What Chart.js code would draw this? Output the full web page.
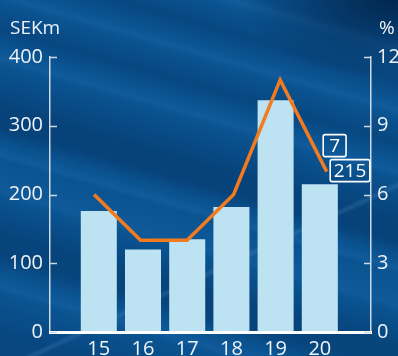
<!DOCTYPE html>
<html>
<head>
<meta charset="utf-8">
<script src="https://cdn.jsdelivr.net/npm/chart.js@4.4.1/dist/chart.umd.min.js"></script>
<style>
    html, body {
        margin: 0;
        padding: 0;
        width: 398px;
        height: 356px;
        overflow: hidden;
    }
    body {
        background:
            radial-gradient(ellipse 150px 80px at 390px 0px, rgba(0, 28, 62, 0.8), rgba(0, 28, 62, 0) 100%),
            linear-gradient(155deg, rgba(0,0,0,0) 0px, rgba(0,0,0,0) 332px, rgba(120,170,220,0.18) 336px, rgba(0,0,0,0) 340px),
            linear-gradient(196deg,
                rgba(0,0,0,0) 0px, rgba(0,0,0,0) 38px,
                rgba(60,130,200,0.18) 46px, rgba(0,0,0,0) 54px,
                rgba(0,30,70,0.22) 78px, rgba(0,0,0,0) 96px,
                rgba(60,130,200,0.16) 106px, rgba(0,0,0,0) 112px,
                rgba(0,30,70,0.22) 138px, rgba(0,0,0,0) 154px,
                rgba(60,130,200,0.16) 166px, rgba(0,0,0,0) 172px,
                rgba(0,30,70,0.30) 212px, rgba(0,30,70,0.30) 232px, rgba(0,0,0,0) 248px,
                rgba(60,130,200,0.16) 258px, rgba(0,0,0,0) 264px,
                rgba(60,130,200,0.14) 294px, rgba(0,0,0,0) 300px,
                rgba(0,30,70,0.28) 334px, rgba(0,30,70,0.28) 356px, rgba(0,0,0,0) 372px,
                rgba(60,130,200,0.16) 386px, rgba(0,0,0,0) 392px,
                rgba(0,30,70,0.22) 430px, rgba(0,30,70,0.22) 460px),
            #0a5391;
        font-family: "Open Sans", sans-serif;
    }
    #wrap {
        position: relative;
        width: 398px;
        height: 356px;
    }
</style>
</head>
<body>
<div id="wrap"><canvas id="profitChart"></canvas></div>
<script>
const years = [15, 16, 17, 18, 19, 20];
const profit = [176, 120, 135, 182, 337, 215];     // SEKm, bars
const margin = [6, 4, 4, 6, 11, 7];                // %, line
const leftTicks = [0, 100, 200, 300, 400];
const rightTicks = [0, 3, 6, 9, 12];

const textColor = '#eef3f8';
const axisColor = '#cfd9e3';
const font = { family: '"Open Sans", sans-serif', size: 20 };
const labelFont = { family: '"Open Sans", sans-serif', size: 19 };

// tick marks point into the plot, so they are drawn here instead of by the scales
const innerTicks = {
    id: 'innerTicks',
    afterDraw(chart) {
        const ctx = chart.ctx;
        const area = chart.chartArea;
        ctx.save();
        ctx.strokeStyle = axisColor;
        ctx.lineWidth = 1.5;
        chart.scales.y.ticks.forEach(t => {
            const py = Math.round(chart.scales.y.getPixelForValue(t.value)) + 0.5;
            ctx.beginPath();
            ctx.moveTo(area.left, py);
            ctx.lineTo(area.left + 7, py);
            ctx.stroke();
        });
        chart.scales.y2.ticks.forEach(t => {
            const py = Math.round(chart.scales.y2.getPixelForValue(t.value)) + 0.5;
            ctx.beginPath();
            ctx.moveTo(area.right, py);
            ctx.lineTo(area.right - 7, py);
            ctx.stroke();
        });
        ctx.restore();
    }
};

// unit captions above both axes
const unitTitles = {
    id: 'unitTitles',
    afterDraw(chart) {
        const ctx = chart.ctx;
        ctx.save();
        ctx.fillStyle = textColor;
        ctx.font = `${labelFont.size}px ${labelFont.family}`;
        ctx.textBaseline = 'alphabetic';
        ctx.textAlign = 'left';
        ctx.fillText('SEKm', 10, 34);
        ctx.fillText('%', 379, 34);
        ctx.restore();
    }
};

// boxed values at the last year
const lastValues = {
    id: 'lastValues',
    afterDatasetsDraw(chart) {
        const ctx = chart.ctx;
        const n = years.length - 1;
        const pt = chart.getDatasetMeta(1).data[n];
        ctx.save();
        ctx.font = `${labelFont.size}px ${labelFont.family}`;
        ctx.textBaseline = 'middle';
        ctx.textAlign = 'center';
        ctx.strokeStyle = '#ffffff';
        ctx.fillStyle = '#ffffff';
        ctx.lineWidth = 1.6;

        const box = (text, left, top, w, h) => {
            ctx.beginPath();
            ctx.roundRect(left, top, w, h, 2);
            ctx.stroke();
            ctx.fillText(text, left + w / 2, top + h / 2 + 1);
        };

        const t1 = String(profit[n]);
        const w1 = ctx.measureText(t1).width + 7;
        box(t1, pt.x + 3.5, pt.y - 12, w1, 22);

        const t2 = String(margin[n]);
        const w2 = ctx.measureText(t2).width + 12;
        box(t2, pt.x - 3.5, pt.y - 37, w2, 22);
        ctx.restore();
    }
};

new Chart(document.getElementById('profitChart'), {
    data: {
        datasets: [
            {
                type: 'bar',
                data: years.map((yr, i) => ({ x: yr, y: profit[i] })),
                backgroundColor: '#bde3f3',
                borderWidth: 0,
                grouped: false,
                barPercentage: 0.815,
                categoryPercentage: 1,
                xAxisID: 'x',
                yAxisID: 'y',
                order: 2
            },
            {
                type: 'line',
                data: years.map((yr, i) => ({ x: yr, y: margin[i] })),
                borderColor: '#f27a1f',
                borderWidth: 3.5,
                borderJoinStyle: 'miter',
                pointRadius: 0,
                tension: 0,
                xAxisID: 'x2',
                yAxisID: 'y2',
                order: 1
            }
        ]
    },
    options: {
        responsive: true,
        maintainAspectRatio: false,
        animation: false,
        events: [],
        layout: { padding: { top: 57, left: 0, right: 0, bottom: 0 } },
        plugins: { legend: { display: false }, tooltip: { enabled: false } },
        scales: {
            x: {
                type: 'linear',
                offset: false,
                min: 13.896,
                max: 21.158,
                afterBuildTicks: (s) => { s.ticks = years.map(v => ({ value: v })); },
                afterFit: (s) => { s.height = 24; },
                grid: { display: true, offset: false, drawOnChartArea: false, drawTicks: false },
                border: { color: '#ffffff', width: 3, z: 1 },
                ticks: { color: textColor, font, padding: 5, maxRotation: 0, autoSkip: false }
            },
            x2: {
                type: 'linear',
                display: false,
                offset: false,
                min: 14.054,
                max: 20.952
            },
            y: {
                position: 'left',
                min: 0,
                max: 400,
                afterBuildTicks: (s) => { s.ticks = leftTicks.map(v => ({ value: v })); },
                afterFit: (s) => { s.width = 50; },
                grid: { display: true, drawOnChartArea: false, drawTicks: false },
                border: { color: axisColor, width: 1.5 },
                ticks: { color: textColor, font, padding: 7 }
            },
            y2: {
                position: 'right',
                min: 0,
                max: 12,
                afterBuildTicks: (s) => { s.ticks = rightTicks.map(v => ({ value: v })); },
                afterFit: (s) => { s.width = 27; },
                grid: { display: true, drawOnChartArea: false, drawTicks: false },
                border: { color: axisColor, width: 1.5 },
                ticks: { color: textColor, font, padding: 6 }
            }
        }
    },
    plugins: [innerTicks, unitTitles, lastValues]
});
</script>
</body>
</html>
